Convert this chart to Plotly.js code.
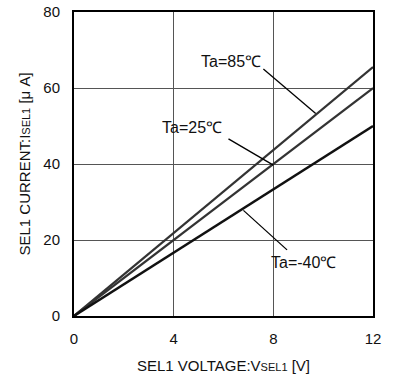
<!DOCTYPE html>
<html><head><meta charset="utf-8">
<script src="https://cdn.plot.ly/plotly-3.0.1.min.js"></script>
<style>body{margin:0;background:#fff}#c{width:400px;height:385px}</style>
</head><body><div id="c"></div>
<script>
const voltage = [0, 12];
const i85 = [0, 65.5];
const i25 = [0, 60];
const iM40 = [0, 50];
const xTicks = [0, 4, 8, 12];
const yTicks = [0, 20, 40, 60, 80];
const labels = ["Ta=85℃", "Ta=25℃", "Ta=-40℃"];
const labelPos = [[6.3, 67.1], [4.75, 49.7], [9.2, 14.2]];
const leaders = [[7.6, 65, 9.7, 53.3], [6.2, 46.6, 8.0, 39.7], [6.8, 27.8, 8.55, 17.4]];

const font = "Liberation Sans";
const traces = [
  {x: voltage, y: i85, mode: 'lines', line: {color: '#333', width: 2.2}},
  {x: voltage, y: i25, mode: 'lines', line: {color: '#333', width: 2.2}},
  {x: voltage, y: iM40, mode: 'lines', line: {color: '#111', width: 2.4}}
];
const layout = {
  width: 400, height: 385, showlegend: false,
  margin: {l: 74, r: 27, t: 12, b: 69},
  paper_bgcolor: '#fff', plot_bgcolor: '#fff',
  font: {family: font, color: '#111'},
  xaxis: {range: [0, 12], tickvals: xTicks, ticks: '', showgrid: true, gridcolor: '#555', gridwidth: 1,
    zeroline: false, showline: true, linecolor: '#000', linewidth: 2, mirror: true,
    tickfont: {size: 15, family: font}, ticklabelstandoff: 8,
    title: {text: 'SEL1 VOLTAGE:V<span style="font-size:11px">SEL1</span> [V]', font: {size: 15, family: font}, standoff: 14}},
  yaxis: {range: [0, 80], tickvals: yTicks, ticks: '', showgrid: true, gridcolor: '#555', gridwidth: 1,
    zeroline: false, showline: true, linecolor: '#000', linewidth: 2, mirror: true,
    tickfont: {size: 15, family: font}, ticklabelstandoff: 9,
    title: {text: 'SEL1 CURRENT:I<span style="font-size:11px">SEL1</span> [μ A]', font: {size: 15, family: font}, standoff: 9}},
  annotations: labels.map((t, i) => ({x: labelPos[i][0], y: labelPos[i][1], xref: 'x', yref: 'y', text: t,
    showarrow: false, bgcolor: 'rgba(0,0,0,0)', font: {size: 16, family: font, color: '#111'}})),
  shapes: leaders.map(l => ({type: 'line', xref: 'x', yref: 'y', x0: l[0], y0: l[1], x1: l[2], y1: l[3],
    line: {color: '#000', width: 1.3}}))
};
Plotly.newPlot('c', traces, layout, {displayModeBar: false, staticPlot: true});
</script></body></html>
